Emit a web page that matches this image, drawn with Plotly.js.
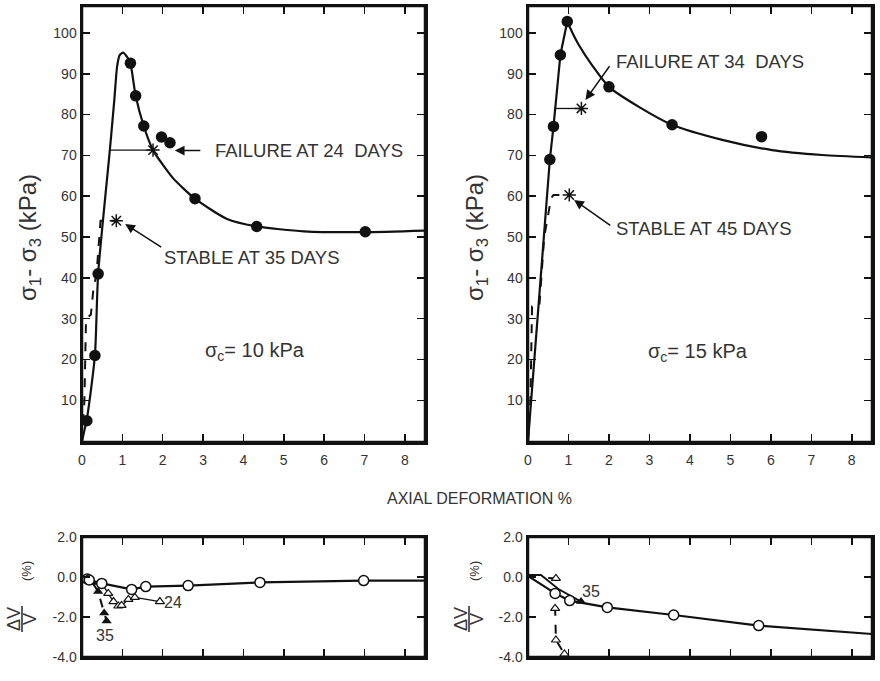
<!DOCTYPE html>
<html><head><meta charset="utf-8">
<script src="https://cdn.plot.ly/plotly-3.0.1.min.js"></script>
<style>html,body{margin:0;padding:0;background:#fff}#chart{width:880px;height:681px}</style>
</head><body><div id="chart"></div>
<script>
// ---------- Panel A : sigma_c = 10 kPa (top-left) ----------
const curveA_strain = [0, 0.13, 0.32, 0.40, 0.69, 0.80, 0.87, 0.93, 1.02, 1.14, 1.20, 1.33, 1.53, 1.76, 2.25, 2.80, 3.58, 4.33, 5.50, 7.00, 8.50];
const curveA_stress = [0, 6, 21, 41, 71.3, 83.5, 91.8, 94.5, 95.2, 93.8, 92.6, 84.6, 77.2, 71.3, 64.5, 59.4, 54.5, 52.6, 51.4, 51.2, 51.6];
const pointsA_strain = [0.12, 0.32, 0.40, 1.20, 1.33, 1.53, 1.97, 2.18, 2.80, 4.33, 7.02];
const pointsA_stress = [5, 21, 41, 92.6, 84.6, 77.2, 74.5, 73.1, 59.4, 52.6, 51.3];
const failA_strain = [0.69, 1.76];
const failA_stress = [71.3, 71.3];
const stableA_strain = [0, 0.06, 0.10, 0.22, 0.28, 0.36, 0.46, 0.85];
const stableA_stress = [0, 10, 30, 31, 37, 41, 54, 54];

// ---------- Panel B : sigma_c = 15 kPa (top-right) ----------
const riseB_strain = [0, 0.54, 0.63, 0.80, 0.97];
const riseB_stress = [0, 69, 77.1, 94.6, 102.8];
const decayB_strain = [0.97, 1.10, 1.26, 1.59, 2.00, 2.74, 3.56, 4.80, 6.03, 7.27, 8.50];
const decayB_stress = [102.8, 100.0, 97.0, 92.0, 86.8, 81.9, 77.5, 73.8, 71.3, 70.1, 69.5];
const pointsB_strain = [0.54, 0.63, 0.80, 0.97, 2.00, 3.56, 5.77];
const pointsB_stress = [69, 77.1, 94.6, 102.8, 86.8, 77.5, 74.6];
const failB_strain = [0.68, 1.32];
const failB_stress = [81.5, 81.5];
const stableB_strain = [0, 0.06, 0.10, 0.28, 0.40, 0.57, 0.63, 1.02];
const stableB_stress = [0, 10, 33, 33, 50, 59.5, 60.3, 60.3];

// ---------- Volume change, panel A (bottom-left) ----------
const volA_line_strain = [0, 0.13, 0.18, 0.49, 1.23, 1.58, 2.63, 4.41, 6.98, 8.5];
const volA_line_dv = [0, -0.10, -0.15, -0.32, -0.62, -0.48, -0.43, -0.27, -0.18, -0.18];
const volA_circ_strain = [0.13, 0.18, 0.49, 1.23, 1.58, 2.63, 4.41, 6.98];
const volA_circ_dv = [-0.10, -0.15, -0.32, -0.62, -0.48, -0.43, -0.27, -0.18];
const volA_24_strain = [0.49, 0.65, 0.78, 0.90, 0.98, 1.15, 1.31, 1.93];
const volA_24_dv = [-0.32, -0.82, -1.23, -1.45, -1.42, -1.12, -1.02, -1.23];
const volA_35_strain = [0.26, 0.40, 0.55, 0.61];
const volA_35_dv = [-0.28, -0.73, -1.80, -2.20];

// ---------- Volume change, panel B (bottom-right) ----------
const volB_line_strain = [0, 0.67, 1.03, 1.96, 3.60, 5.70, 8.5];
const volB_line_dv = [0.05, -0.82, -1.18, -1.52, -1.90, -2.43, -2.85];
const volB_circ_strain = [0.67, 1.03, 1.96, 3.60, 5.70];
const volB_circ_dv = [-0.82, -1.18, -1.52, -1.90, -2.43];
const volB_35_strain = [0, 0.32, 0.75, 1.31];
const volB_35_dv = [0.10, 0.10, -0.60, -1.23];
const volB_45_strain = [0.50, 0.69, 0.67, 0.69, 0.90];
const volB_45_dv = [-0.05, -0.07, -1.57, -3.15, -3.85];

const stressTicks = [10, 20, 30, 40, 50, 60, 70, 80, 90, 100];
const strainTicks = [0, 1, 2, 3, 4, 5, 6, 7, 8];
const dvTicks = [2, 0, -2, -4];
const dvTickText = ['2.0', '0.0', '-2.0', '-4.0'];

const F = 'Liberation Sans, Arial, Helvetica, sans-serif';
const K = '#111';
const TXT = '#333';

function line(x, y, xa, ya, opts) {
  return Object.assign({type:'scatter', mode:'lines', x:x, y:y, xaxis:xa, yaxis:ya,
    line:{color:K, width:2.2}, hoverinfo:'skip', showlegend:false}, opts||{});
}
function marks(x, y, xa, ya, marker) {
  return {type:'scatter', mode:'markers', x:x, y:y, xaxis:xa, yaxis:ya,
    marker:marker, hoverinfo:'skip', showlegend:false, cliponaxis:false};
}
const dot = {symbol:'circle', size:11.5, color:K};
const star = {symbol:'asterisk-open', size:11, color:K, line:{color:K, width:1.5}};
const openC = {symbol:'circle', size:10, color:'#fff', line:{color:K, width:1.5}};
const openT = {symbol:'triangle-up', size:8, color:'#fff', line:{color:K, width:1.2}};
const fillT = {symbol:'triangle-up', size:9, color:K};

const data = [
  // A
  line(stableA_strain, stableA_stress, 'x', 'y', {line:{color:K, width:2, dash:'dash'}}),
  line(curveA_strain, curveA_stress, 'x', 'y', {line:{color:K, width:2.2, shape:'spline', smoothing:0.6}}),
  line(failA_strain, failA_stress, 'x', 'y', {line:{color:K, width:1.3}}),
  marks(pointsA_strain, pointsA_stress, 'x', 'y', dot),
  marks([failA_strain[1]], [failA_stress[1]], 'x', 'y', star),
  marks([stableA_strain[stableA_strain.length-1]], [stableA_stress[stableA_stress.length-1]], 'x', 'y', star),
  // B
  line(stableB_strain, stableB_stress, 'x2', 'y2', {line:{color:K, width:2, dash:'dash'}}),
  line(riseB_strain, riseB_stress, 'x2', 'y2'),
  line(decayB_strain, decayB_stress, 'x2', 'y2', {line:{color:K, width:2.2, shape:'spline', smoothing:0.7}}),
  line(failB_strain, failB_stress, 'x2', 'y2', {line:{color:K, width:1.3}}),
  marks(pointsB_strain, pointsB_stress, 'x2', 'y2', dot),
  marks([failB_strain[1]], [failB_stress[1]], 'x2', 'y2', star),
  marks([stableB_strain[stableB_strain.length-1]], [stableB_stress[stableB_stress.length-1]], 'x2', 'y2', star),
  // volume A
  line(volA_35_strain, volA_35_dv, 'x3', 'y3', {line:{color:K, width:2, dash:'dash'}}),
  line(volA_24_strain, volA_24_dv, 'x3', 'y3', {line:{color:K, width:1.3}}),
  line(volA_line_strain, volA_line_dv, 'x3', 'y3', {line:{color:K, width:2.2}}),
  marks(volA_24_strain.slice(1), volA_24_dv.slice(1), 'x3', 'y3', openT),
  marks(volA_35_strain, volA_35_dv, 'x3', 'y3', fillT),
  marks(volA_circ_strain, volA_circ_dv, 'x3', 'y3', openC),
  // volume B
  line(volB_45_strain, volB_45_dv, 'x4', 'y4', {line:{color:K, width:2, dash:'dash'}}),
  line(volB_35_strain, volB_35_dv, 'x4', 'y4', {line:{color:K, width:1.8}}),
  line(volB_line_strain, volB_line_dv, 'x4', 'y4', {line:{color:K, width:2.2}}),
  marks(volB_45_strain.slice(1), volB_45_dv.slice(1), 'x4', 'y4', openT),
  marks([volB_35_strain[volB_35_strain.length-1]], [volB_35_dv[volB_35_dv.length-1]], 'x4', 'y4', fillT),
  marks(volB_circ_strain, volB_circ_dv, 'x4', 'y4', openC)
];

const W = 880, H = 681;
const px = v => v / W;
const py = v => (H - v) / H;

const ax = {showline:true, linecolor:K, linewidth:2.5, mirror:'ticks', ticks:'inside', ticklen:8,
  tickwidth:1.5, tickcolor:K, showgrid:false, zeroline:false,
  tickfont:{family:F, size:14, color:TXT}, fixedrange:true};
function xax(dom, anchor, labels) {
  return Object.assign({}, ax, {domain:dom, anchor:anchor, range:[0, 8.5], ticklabelstandoff:4,
    tickmode:'array', tickvals: labels ? strainTicks : strainTicks.slice(1),
    ticktext: labels ? strainTicks.map(String) : strainTicks.slice(1).map(String), showticklabels:labels});
}
function yStress(dom, anchor) {
  return Object.assign({}, ax, {domain:dom, anchor:anchor, range:[-0.2, 106.6],
    tickmode:'array', tickvals:stressTicks, ticktext:stressTicks.map(String)});
}
function yDv(dom, anchor) {
  return Object.assign({}, ax, {domain:dom, anchor:anchor, range:[-4, 2],
    tickmode:'array', tickvals:dvTicks, ticktext:dvTickText});
}

const xL = [px(82), px(425)], xR = [px(528), px(872)];
const yT = [py(442), py(6)], yB = [py(657), py(537)];

function txt(text, x, y, xref, yref, size, xanchor, extra) {
  return Object.assign({text:text, x:x, y:y, xref:xref, yref:yref, showarrow:false,
    xanchor:xanchor||'center', yanchor:'middle', font:{family:F, size:size, color:TXT}}, extra||{});
}
function arrow(x, y, tx, ty, xr, yr) {
  return {text:'', x:x, y:y, xref:xr, yref:yr, ax:tx, ay:ty, axref:xr, ayref:yr,
    showarrow:true, arrowhead:2, arrowsize:1.3, arrowwidth:1.5, arrowcolor:K};
}

const annotations = [
  txt('FAILURE AT 24&nbsp; DAYS', 3.25, 71.2, 'x', 'y', 18.5, 'left'),
  arrow(2.30, 71.2, 2.97, 71.2, 'x', 'y'),
  txt('STABLE AT 35 DAYS', 1.98, 44.9, 'x', 'y', 18.5, 'left'),
  arrow(1.07, 53.2, 2.00, 47.3, 'x', 'y'),
  txt('σ<sub>c</sub>= 10 kPa', 4.29, 21.9, 'x', 'y', 20, 'center'),
  txt('FAILURE AT 34&nbsp; DAYS', 2.12, 93.1, 'x2', 'y2', 18.5, 'left'),
  arrow(1.42, 83.6, 2.04, 92.2, 'x2', 'y2'),
  txt('STABLE AT 45 DAYS', 2.12, 52.0, 'x2', 'y2', 18.5, 'left'),
  arrow(1.14, 59.1, 2.07, 52.6, 'x2', 'y2'),
  txt('σ<sub>c</sub>= 15 kPa', 4.20, 21.7, 'x2', 'y2', 20, 'center'),
  txt('24', 2.26, -1.29, 'x3', 'y3', 16, 'center'),
  txt('35', 0.57, -2.9, 'x3', 'y3', 16, 'center'),
  txt('35', 1.56, -0.74, 'x4', 'y4', 16, 'center'),
  txt('45', 0.86, -4.55, 'x4', 'y4', 16, 'center'),
  txt('AXIAL DEFORMATION %', px(479), py(498), 'paper', 'paper', 16, 'center'),
  txt('σ<sub>1</sub>- σ<sub>3</sub> (kPa)', px(29), py(238), 'paper', 'paper', 24, 'center', {textangle:-90}),
  txt('σ<sub>1</sub>- σ<sub>3</sub> (kPa)', px(476), py(238), 'paper', 'paper', 24, 'center', {textangle:-90}),
  // dV/V labels
  txt('ΔV', px(14), py(619), 'paper', 'paper', 18, 'center', {textangle:-90}),
  txt('V', px(30), py(619), 'paper', 'paper', 18, 'center', {textangle:-90}),
  txt('(%)', px(26), py(571), 'paper', 'paper', 13, 'center', {textangle:-90}),
  txt('ΔV', px(461), py(619), 'paper', 'paper', 18, 'center', {textangle:-90}),
  txt('V', px(477), py(619), 'paper', 'paper', 18, 'center', {textangle:-90}),
  txt('(%)', px(474), py(571), 'paper', 'paper', 13, 'center', {textangle:-90})
];

function frame(xa, ya) {
  return {type:'rect', xref:xa + ' domain', yref:ya + ' domain', x0:0, x1:1, y0:0, y1:1,
    line:{color:K, width:2.5}, fillcolor:'rgba(0,0,0,0)', layer:'above'};
}
const shapes = [
  frame('x', 'y'), frame('x2', 'y2'), frame('x3', 'y3'), frame('x4', 'y4'),
  {type:'line', xref:'paper', yref:'paper', x0:px(22), x1:px(22), y0:py(606), y1:py(632), line:{color:TXT, width:1.6}},
  {type:'line', xref:'paper', yref:'paper', x0:px(469), x1:px(469), y0:py(606), y1:py(632), line:{color:TXT, width:1.6}}
];

const layout = {
  width:W, height:H, margin:{l:0, r:0, t:0, b:0},
  paper_bgcolor:'#fff', plot_bgcolor:'#fff', showlegend:false,
  font:{family:F, color:TXT},
  xaxis: xax(xL, 'y', true),
  yaxis: yStress(yT, 'x'),
  xaxis2: xax(xR, 'y2', true),
  yaxis2: yStress(yT, 'x2'),
  xaxis3: xax(xL, 'y3', false),
  yaxis3: yDv(yB, 'x3'),
  xaxis4: xax(xR, 'y4', false),
  yaxis4: yDv(yB, 'x4'),
  annotations: annotations,
  shapes: shapes
};

Plotly.newPlot('chart', data, layout, {staticPlot:true, displayModeBar:false});
</script>
</body></html>
